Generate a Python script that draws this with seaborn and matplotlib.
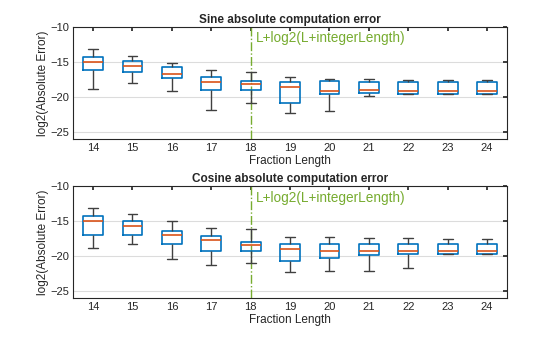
import numpy as np
import pandas as pd
import matplotlib
matplotlib.use("Agg")
import matplotlib.pyplot as plt
import seaborn as sns

fraction_lengths = [14, 15, 16, 17, 18, 19, 20, 21, 22, 23, 24]
marker_length = 18
marker_label = "L+log2(L+integerLength)"

# five-number summaries (min, q1, median, q3, max)
sine_lo  = [-18.8, -18.0, -19.2, -21.8, -20.8, -22.2, -22.0, -19.8, -19.6, -19.6, -19.6]
sine_q1  = [-16.1, -16.4, -17.3, -19.0, -19.0, -20.8, -19.5, -19.4, -19.5, -19.6, -19.6]
sine_med = [-15.0, -15.6, -16.7, -17.9, -18.2, -18.5, -19.1, -19.0, -19.2, -19.1, -19.1]
sine_q3  = [-14.3, -14.9, -15.7, -17.1, -17.7, -17.9, -17.7, -17.8, -17.9, -17.9, -17.9]
sine_hi  = [-13.2, -14.2, -15.1, -16.1, -16.5, -17.2, -17.4, -17.4, -17.5, -17.6, -17.6]

cos_lo  = [-18.8, -18.2, -20.4, -21.2, -21.0, -22.3, -22.1, -22.1, -21.6, -19.7, -19.7]
cos_q1  = [-16.9, -16.9, -18.2, -19.2, -19.3, -20.7, -20.2, -19.8, -19.7, -19.7, -19.6]
cos_med = [-15.0, -15.6, -17.0, -17.6, -18.4, -19.0, -19.3, -19.3, -19.3, -19.2, -19.2]
cos_q3  = [-14.3, -15.0, -16.4, -17.1, -17.9, -18.2, -18.2, -18.2, -18.2, -18.2, -18.2]
cos_hi  = [-13.1, -14.0, -14.9, -15.9, -16.1, -17.2, -17.3, -17.4, -17.4, -17.5, -17.5]

titles = ["Sine absolute computation error", "Cosine absolute computation error"]
xlabel = "Fraction Length"
ylabel = "log2(Absolute Error)"
yticks = [-25, -20, -15, -10]


def long_frame(lo, q1, med, q3, hi):
    rows = []
    for L, a, b, c, d, e in zip(fraction_lengths, lo, q1, med, q3, hi):
        for v in (a, b, c, d, e):
            rows.append({"L": str(L), "err": v})
    return pd.DataFrame(rows)


frames = [long_frame(sine_lo, sine_q1, sine_med, sine_q3, sine_hi),
          long_frame(cos_lo, cos_q1, cos_med, cos_q3, cos_hi)]

sns.set_theme(style="white")
plt.rcParams["font.family"] = ["Liberation Sans", "DejaVu Sans"]

fig = plt.figure(figsize=(5.6, 3.37), dpi=100)
axes = [fig.add_axes([0.131, 0.5866, 0.774, 0.334]),
        fig.add_axes([0.131, 0.1148, 0.774, 0.332])]

blue = "#0072BD"
orange = "#D95319"
green = "#77AC30"
order = [str(L) for L in fraction_lengths]

for ax, df, title in zip(axes, frames, titles):
    ax.set_axisbelow(True)
    ax.grid(True, color="#DCDCDC", linewidth=0.8)
    sns.boxplot(data=df, x="L", y="err", order=order, ax=ax, width=0.5,
                fill=False, whis=(0, 100), linewidth=1.0,
                boxprops=dict(color=blue, linewidth=1.2),
                medianprops=dict(color=orange, linewidth=1.2),
                whiskerprops=dict(color="#404040", linewidth=1.0),
                capprops=dict(color="#404040", linewidth=1.0),
                showfliers=False)
    xm = order.index(str(marker_length))
    ax.axvline(xm, color=green, linestyle="-.", linewidth=1.0, zorder=1)
    ax.text(xm + 0.14, -10.6, marker_label, color=green, fontsize=9.8,
            ha="left", va="top")
    ax.set_xlim(-0.5, len(order) - 0.5)
    ax.set_ylim(-26, -10)
    ax.set_yticks(yticks)
    ax.set_title(title, fontsize=8.5, fontweight="bold", pad=3)
    ax.set_xlabel(xlabel, fontsize=8.5, labelpad=1)
    ax.set_ylabel(ylabel, fontsize=8.5, labelpad=1)
    ax.tick_params(axis="both", direction="in", length=3, top=True,
                   right=True, labelsize=8, color="#262626", pad=3)
    for s in ax.spines.values():
        s.set_color("#262626")
        s.set_linewidth(0.8)

fig.savefig("out.png", dpi=100)
